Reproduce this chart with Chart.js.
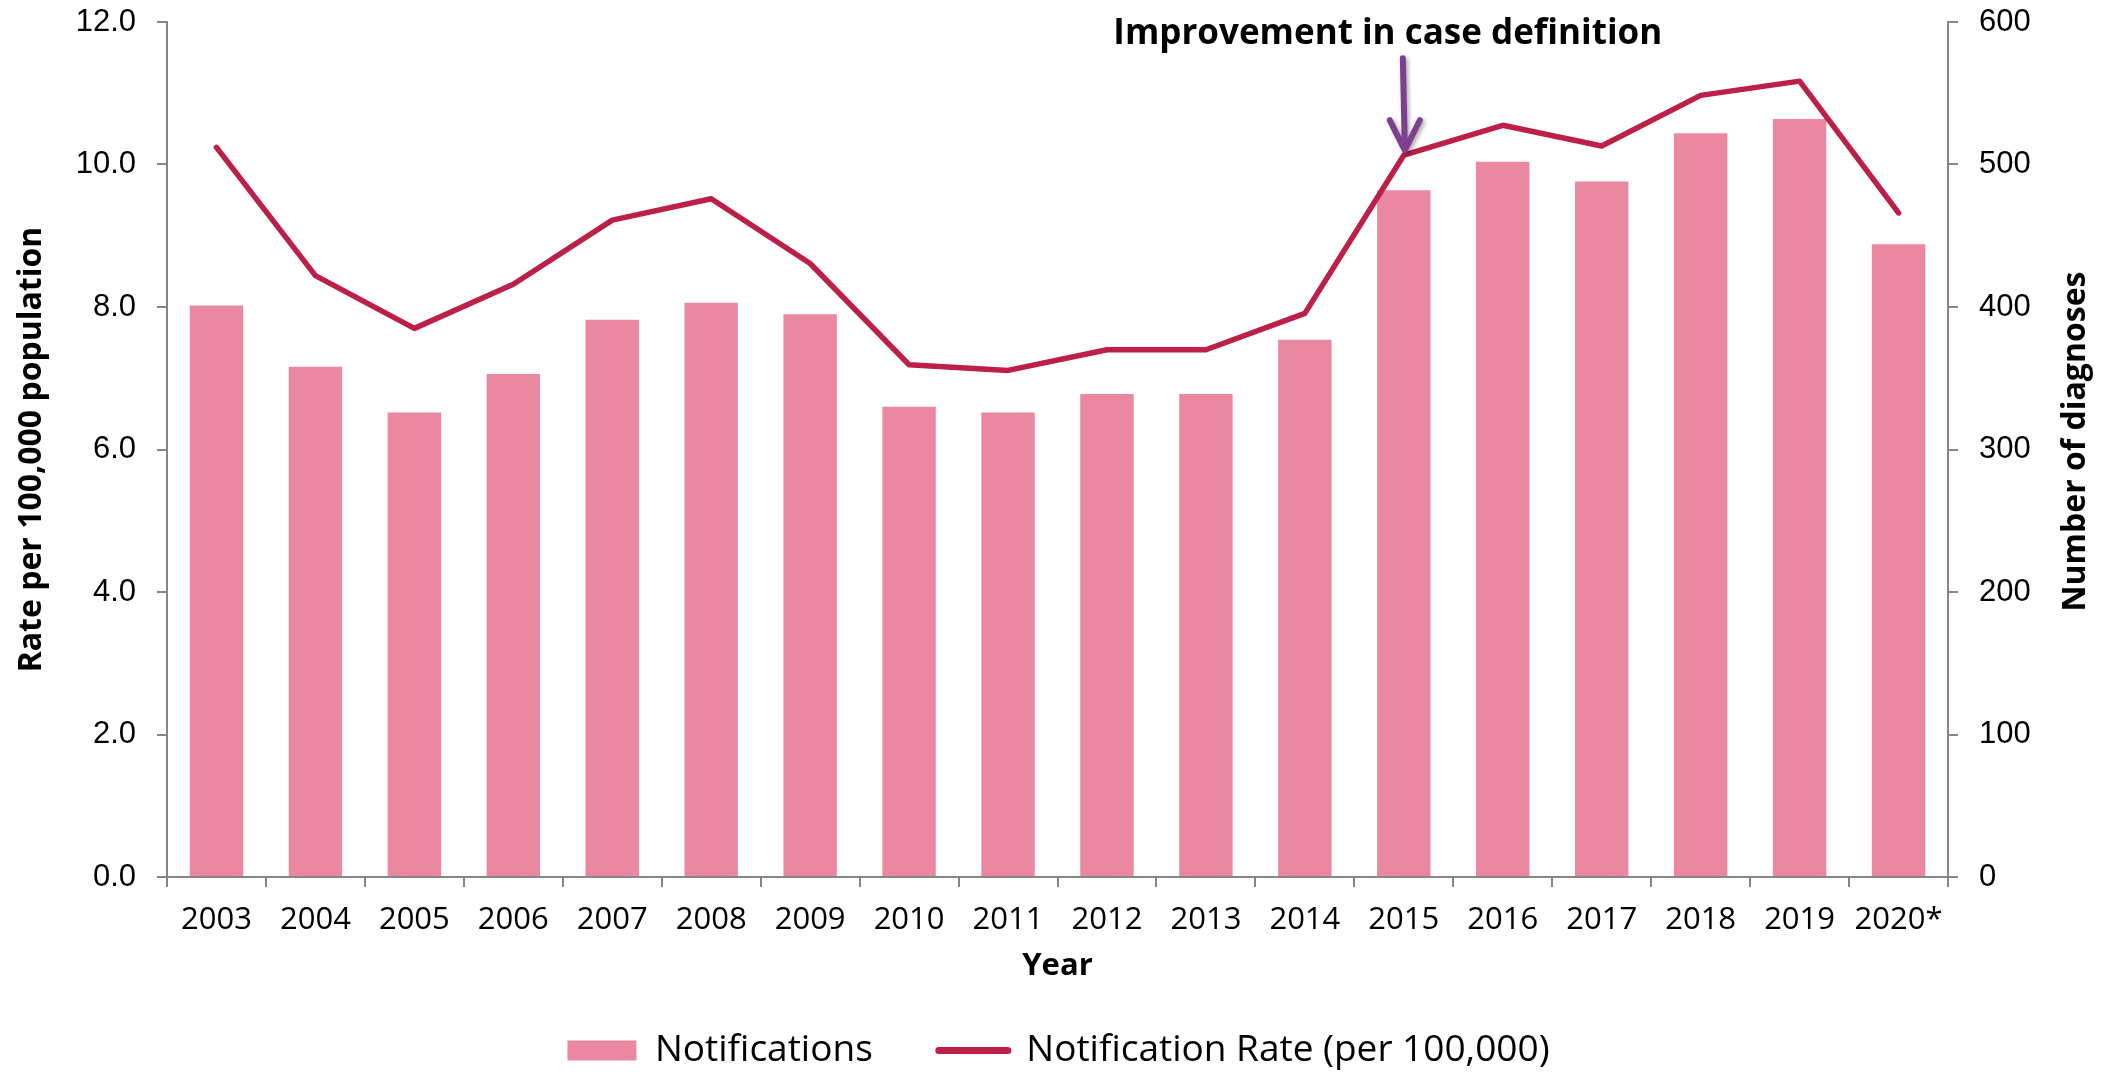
<!DOCTYPE html>
<html>
<head>
<meta charset="utf-8">
<script src="https://cdn.jsdelivr.net/npm/chart.js@4.4.1/dist/chart.umd.min.js"></script>
<style>
  html, body { margin: 0; padding: 0; background: #fff; }
  canvas { display: block; }
</style>
</head>
<body>
<canvas id="chart" width="2117" height="1072"></canvas>
<script>
const years = ['2003', '2004', '2005', '2006', '2007', '2008', '2009', '2010', '2011',
               '2012', '2013', '2014', '2015', '2016', '2017', '2018', '2019', '2020*'];
const notifications = [401, 358, 326, 353, 391, 403, 395, 330, 326,
                       339, 339, 377, 482, 502, 488, 522, 532, 444];
const rates = [10.24, 8.44, 7.70, 8.32, 9.22, 9.52, 8.61, 7.19, 7.11,
               7.40, 7.40, 7.91, 10.13, 10.55, 10.26, 10.97, 11.17, 9.32];
const rateTicks = [0, 2, 4, 6, 8, 10, 12];
const countTicks = [0, 100, 200, 300, 400, 500, 600];

const BAR_COLOR = '#EA88A1';
const LINE_COLOR = '#BC1F48';
const AXIS_COLOR = '#868686';
const ARROW_COLOR = '#7E3F8E';

// note above the 2015 point
const noteText = 'Improvement in case definition';
const noteYear = '2015';

const annotationPlugin = {
    id: 'annotation',
    afterDraw(chart) {
        const ctx = chart.ctx;
        const x = chart.scales.x;
        const y = chart.scales.y;
        const area = chart.chartArea;
        const px = x.getPixelForValue(years.indexOf(noteYear));

        ctx.save();
        ctx.fillStyle = '#000';
        ctx.font = 'bold 35px "Open Sans"';
        ctx.textAlign = 'center';
        ctx.textBaseline = 'middle';
        ctx.fillText(noteText, px - 16, y.getPixelForValue(11.83));

        // arrow
        const top = y.getPixelForValue(11.49);
        const tip = y.getPixelForValue(10.2);
        ctx.shadowColor = 'rgba(0,0,0,0.35)';
        ctx.shadowBlur = 4;
        ctx.shadowOffsetX = 2;
        ctx.shadowOffsetY = 2;
        ctx.strokeStyle = ARROW_COLOR;
        ctx.lineWidth = 6;
        ctx.lineCap = 'round';
        ctx.lineJoin = 'round';
        ctx.beginPath();
        ctx.moveTo(px - 1, top);
        ctx.lineTo(px + 1, tip - 3);
        ctx.moveTo(px - 14, tip - 30);
        ctx.lineTo(px + 1, tip);
        ctx.lineTo(px + 16, tip - 30);
        ctx.stroke();
        ctx.restore();

        // right axis title, reads bottom to top
        ctx.save();
        ctx.fillStyle = '#000';
        ctx.font = 'bold 32px "Open Sans"';
        ctx.textAlign = 'center';
        ctx.textBaseline = 'middle';
        ctx.translate(2076, (area.top + area.bottom) / 2 - 8);
        ctx.rotate(-Math.PI / 2);
        ctx.fillText('Number of diagnoses', 0, 0);
        ctx.restore();
    }
};

new Chart(document.getElementById('chart'), {
    type: 'bar',
    data: {
        labels: years,
        datasets: [{
            type: 'bar',
            label: 'Notifications',
            data: notifications,
            backgroundColor: BAR_COLOR,
            borderWidth: 0,
            barPercentage: 0.54,
            categoryPercentage: 1,
            yAxisID: 'y1',
            order: 2
        }, {
            type: 'line',
            label: 'Notification Rate (per 100,000)',
            data: rates,
            borderColor: LINE_COLOR,
            backgroundColor: LINE_COLOR,
            borderWidth: 5.5,
            borderCapStyle: 'round',
            borderJoinStyle: 'round',
            pointRadius: 0,
            tension: 0,
            fill: false,
            yAxisID: 'y',
            order: 1
        }]
    },
    options: {
        responsive: false,
        animation: false,
        layout: {
            padding: { top: 22, left: 0, right: 0, bottom: -7 }
        },
        scales: {
            x: {
                grid: {
                    display: true,
                    drawOnChartArea: false,
                    offset: true,
                    tickLength: 10,
                    color: AXIS_COLOR,
                    lineWidth: 2
                },
                border: { display: true, color: AXIS_COLOR, width: 2 },
                ticks: {
                    color: '#000',
                    font: { family: 'Open Sans', size: 31 },
                    padding: 15,
                    maxRotation: 0,
                    autoSkip: false
                },
                title: {
                    display: true,
                    text: 'Year',
                    color: '#000',
                    font: { family: 'Open Sans', size: 31, weight: 'bold', lineHeight: 0.2 },
                    padding: { top: 0, bottom: -3 }
                },
                afterFit: scale => { scale.height = 89; }
            },
            y: {
                position: 'left',
                min: 0,
                max: 12,
                afterBuildTicks: scale => { scale.ticks = rateTicks.map(v => ({ value: v })); },
                grid: {
                    drawOnChartArea: false,
                    tickLength: 10,
                    color: AXIS_COLOR,
                    lineWidth: 2
                },
                border: { display: true, color: AXIS_COLOR, width: 2 },
                ticks: {
                    color: '#000',
                    font: { family: 'Liberation Sans', size: 31 },
                    padding: 21,
                    callback: v => Number(v).toFixed(1)
                },
                title: {
                    display: true,
                    text: 'Rate per 100,000 population',
                    color: '#000',
                    font: { family: 'Open Sans', size: 32, weight: 'bold' },
                    padding: { top: 13, bottom: 0 }
                },
                afterFit: scale => {
                    scale.width = 167;
                    scale.paddingTop = 0;
                    scale.paddingBottom = 0;
                }
            },
            y1: {
                position: 'right',
                min: 0,
                max: 600,
                afterBuildTicks: scale => { scale.ticks = countTicks.map(v => ({ value: v })); },
                grid: {
                    drawOnChartArea: false,
                    tickLength: 10,
                    color: AXIS_COLOR,
                    lineWidth: 2
                },
                border: { display: true, color: AXIS_COLOR, width: 2 },
                ticks: {
                    color: '#000',
                    font: { family: 'Liberation Sans', size: 31 },
                    padding: 21
                },
                afterFit: scale => {
                    scale.width = 169;
                    scale.paddingTop = 0;
                    scale.paddingBottom = 0;
                }
            }
        },
        plugins: {
            legend: {
                position: 'bottom',
                labels: {
                    color: '#000',
                    font: { family: 'Open Sans', size: 37 },
                    usePointStyle: true,
                    pointStyleWidth: 69,
                    boxHeight: 20,
                    padding: 66,
                    generateLabels: chart => {
                        const items = Chart.defaults.plugins.legend.labels.generateLabels(chart);
                        items.sort((a, b) => a.datasetIndex - b.datasetIndex);
                        items.forEach(item => {
                            if (item.datasetIndex === 0) {
                                item.pointStyle = 'rect';
                                item.fillStyle = BAR_COLOR;
                                item.lineWidth = 0;
                            } else {
                                item.pointStyle = 'line';
                                item.strokeStyle = LINE_COLOR;
                                item.lineWidth = 7;
                                item.lineCap = 'round';
                            }
                        });
                        return items;
                    }
                }
            },
            tooltip: { enabled: false }
        }
    },
    plugins: [annotationPlugin]
});
</script>
</body>
</html>
